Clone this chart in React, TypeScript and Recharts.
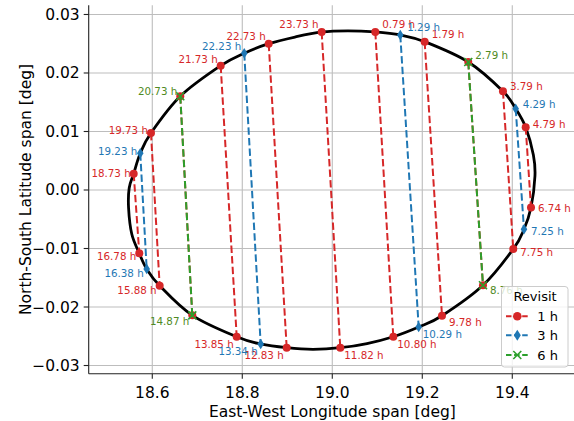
import React from 'react';
import { ScatterChart, Scatter, XAxis, YAxis, CartesianGrid, Legend } from 'recharts';

const FONT = '"DejaVu Sans", sans-serif';
const RED = '#d62728';
const BLUE = '#1f77b4';
const GREEN = '#2ca02c';
const GREEN_TEXT = '#4f8a23';

const xTicks = [18.6, 18.8, 19.0, 19.2, 19.4];
const yTicks = [-0.03, -0.02, -0.01, 0.0, 0.01, 0.02, 0.03];

// ellipse outline (clockwise from the top)
const ellipseLon = [
  19.0349, 19.0956, 19.1511, 19.2053, 19.3022, 19.3793, 19.4076, 19.4298, 19.4469, 19.4504,
  19.4416, 19.426, 19.4022, 19.3349, 19.2438, 19.192, 19.1356, 19.0771, 19.0178, 18.9571,
  18.8987, 18.8409, 18.7876, 18.6889, 18.6164, 18.5876, 18.5711, 18.5544, 18.5473, 18.5487,
  18.5587, 18.5733, 18.5971, 18.6622, 18.752, 18.8044, 18.8587, 18.9171, 18.9764,
];
const ellipseLat = [
  0.02721, 0.02701, 0.0265, 0.02535, 0.02188, 0.01687, 0.0139, 0.01072, 0.00598, 0.00239,
  -0.00299, -0.00672, -0.01009, -0.01629, -0.02149, -0.02342, -0.02508, -0.02624, -0.02696, -0.02723,
  -0.02696, -0.02632, -0.02508, -0.02142, -0.01636, -0.0135, -0.01082, -0.00752, -0.00308, 0.00034,
  0.00279, 0.00627, 0.00974, 0.01602, 0.02125, 0.02337, 0.02501, 0.02615, 0.02701,
];

// 1 h revisit: top end / bottom end of each pass
const oneTopHours = [18.73, 19.73, 20.73, 21.73, 22.73, 23.73, 0.79, 1.79, 2.79, 3.79, 4.79];
const oneTopLon = [18.5587, 18.5971, 18.6622, 18.752, 18.8587, 18.9764, 19.0956, 19.2053, 19.3022, 19.3793, 19.4298];
const oneTopLat = [0.00279, 0.00974, 0.01602, 0.02125, 0.02501, 0.02701, 0.02701, 0.02535, 0.02188, 0.01687, 0.01072];
const oneBotHours = [16.78, 15.88, 14.87, 13.85, 12.83, 11.82, 10.8, 9.78, 8.76, 7.75, 6.74];
const oneBotLon = [18.5711, 18.6164, 18.6889, 18.7876, 18.8987, 19.0178, 19.1356, 19.2438, 19.3349, 19.4022, 19.4416];
const oneBotLat = [-0.01082, -0.01636, -0.02142, -0.02508, -0.02696, -0.02696, -0.02508, -0.02149, -0.01629, -0.01009, -0.00299];

// 3 h revisit
const threeTopHours = [19.23, 22.23, 1.29, 4.29];
const threeTopLon = [18.5733, 18.8044, 19.1511, 19.4076];
const threeTopLat = [0.00627, 0.02337, 0.0265, 0.0139];
const threeBotHours = [16.38, 13.34, 10.29, 7.25];
const threeBotLon = [18.5876, 18.8409, 19.192, 19.426];
const threeBotLat = [-0.0135, -0.02632, -0.02342, -0.00672];

// 6 h revisit
const sixTopHours = [20.73, 2.79];
const sixTopLon = [18.6622, 19.3022];
const sixTopLat = [0.01602, 0.02188];
const sixBotHours = [14.87, 8.76];
const sixBotLon = [18.6889, 19.3349];
const sixBotLat = [-0.02142, -0.01629];

const legendLabels = ['1 h', '3 h', '6 h'];

type Pt = { x: number; y: number; h?: number };

const ellipse: Pt[] = ellipseLon.map((x, i) => ({ x, y: ellipseLat[i] }));

const makePasses = (tH: number[], tX: number[], tY: number[], bH: number[], bX: number[], bY: number[]): Pt[][] =>
  tH.map((h, i) => [
    { x: tX[i], y: tY[i], h },
    { x: bX[i], y: bY[i], h: bH[i] },
  ]);

const onePasses = makePasses(oneTopHours, oneTopLon, oneTopLat, oneBotHours, oneBotLon, oneBotLat);
const threePasses = makePasses(threeTopHours, threeTopLon, threeTopLat, threeBotHours, threeBotLon, threeBotLat);
const sixPasses = makePasses(sixTopHours, sixTopLon, sixTopLat, sixBotHours, sixBotLon, sixBotLat);
const sixHours = [...sixTopHours, ...sixBotHours];

// closed catmull-rom, so the ellipse has no seam
const closedCurve = (context: any) => {
  let pts: number[][] = [];
  return {
    areaStart() {},
    areaEnd() {},
    lineStart() {
      pts = [];
    },
    point(x: number, y: number) {
      pts.push([+x, +y]);
    },
    lineEnd() {
      const n = pts.length;
      if (n < 3) return;
      context.moveTo(pts[0][0], pts[0][1]);
      for (let i = 0; i < n; i++) {
        const p0 = pts[(i - 1 + n) % n];
        const p1 = pts[i];
        const p2 = pts[(i + 1) % n];
        const p3 = pts[(i + 2) % n];
        context.bezierCurveTo(
          p1[0] + (p2[0] - p0[0]) / 6, p1[1] + (p2[1] - p0[1]) / 6,
          p2[0] - (p3[0] - p1[0]) / 6, p2[1] - (p3[1] - p1[1]) / 6,
          p2[0], p2[1]
        );
      }
      context.closePath();
    },
  };
};

const hourLabel = (cx: number, cy: number, p: Pt, color: string) => {
  const right = p.x >= 19.0;
  const dx = right ? (p.y < -0.022 ? 4 : 7) : -3;
  return (
    <text x={cx + dx} y={cy - p.y * 290} dy="0.36em" textAnchor={right ? 'start' : 'end'}
      fontSize={10.3} fill={color} fontFamily={FONT}>
      {(p.h as number).toFixed(2)} h
    </text>
  );
};

const RedDot = (props: any) => {
  const { cx, cy, payload } = props;
  return (
    <g>
      <circle cx={cx} cy={cy} r={4} fill={RED} />
      {!sixHours.includes(payload.h) && hourLabel(cx, cy, payload, RED)}
    </g>
  );
};

const BlueDiamond = (props: any) => {
  const { cx, cy, payload } = props;
  return (
    <g>
      <polygon points={`${cx},${cy - 5.2} ${cx + 3.3},${cy} ${cx},${cy + 5.2} ${cx - 3.3},${cy}`} fill={BLUE} />
      {hourLabel(cx, cy, payload, BLUE)}
    </g>
  );
};

const GreenX = (props: any) => {
  const { cx, cy, payload } = props;
  return (
    <g>
      <path d={`M${cx - 4},${cy - 4}L${cx + 4},${cy + 4}M${cx - 4},${cy + 4}L${cx + 4},${cy - 4}`} stroke={GREEN} strokeWidth={1.6} />
      {hourLabel(cx, cy, payload, GREEN_TEXT)}
    </g>
  );
};

const dash = '7.4 3.2';

const LegendBox = () => {
  const rows = [
    { color: RED, icon: (x: number, y: number) => <circle cx={x} cy={y} r={4.3} fill={RED} /> },
    { color: BLUE, icon: (x: number, y: number) => <polygon points={`${x},${y - 5.5} ${x + 3.5},${y} ${x},${y + 5.5} ${x - 3.5},${y}`} fill={BLUE} /> },
    { color: GREEN, icon: (x: number, y: number) => <path d={`M${x - 4},${y - 4}L${x + 4},${y + 4}M${x - 4},${y + 4}L${x + 4},${y - 4}`} stroke={GREEN} strokeWidth={1.6} /> },
  ];
  const rowY = [30.3, 49.3, 69];
  return (
    <svg width={68} height={82} style={{ display: 'block' }}>
      <rect x={0.5} y={0.5} width={66.5} height={80.5} rx={3} fill="rgba(255,255,255,0.8)" stroke="#cccccc" />
      <text x={34} y={10.8} dy="0.36em" textAnchor="middle" fontSize={13} fontFamily={FONT} fill="#000">Revisit</text>
      {rows.map((r, i) => (
        <g key={i}>
          <line x1={5} x2={27.5} y1={rowY[i]} y2={rowY[i]} stroke={r.color} strokeWidth={2} strokeDasharray="5.5 2.6" />
          {r.icon(16.3, rowY[i])}
          <text x={36.3} y={rowY[i]} dy="0.36em" fontSize={13} fontFamily={FONT} fill="#000">{legendLabels[i]}</text>
        </g>
      ))}
    </svg>
  );
};

const App: React.FC = () => {
  const axisStroke = { stroke: '#222', strokeWidth: 1.1 };
  const tickFont = { fontSize: 15.5, fill: '#000', fontFamily: FONT };
  return (
    <div style={{ position: 'absolute', left: 0, top: 0, width: 574, height: 421, overflow: 'hidden', background: '#fff' }}>
      <ScatterChart width={580} height={421} margin={{ top: 5.3, right: 4, bottom: 17.3, left: 0 }}>
        <CartesianGrid stroke="#bdbdbd" strokeWidth={1.1} horizontalValues={yTicks} verticalValues={xTicks} />
        <XAxis type="number" dataKey="x" domain={[18.4587, 19.5416]} allowDataOverflow ticks={xTicks}
          tickFormatter={(v: number) => v.toFixed(1)} height={30} tickSize={5} tickMargin={8}
          axisLine={axisStroke} tickLine={axisStroke} tick={tickFont}
          label={{
            content: (p: any) => (
              <text x={p.viewBox.x + p.viewBox.width / 2} y={417.3} textAnchor="middle" fontSize={15.5} fontFamily={FONT} fill="#000">
                East-West Longitude span [deg]
              </text>
            ),
          }} />
        <XAxis xAxisId="top" orientation="top" type="number" domain={[18.4587, 19.5416]} allowDataOverflow
          height={0} tick={false} tickLine={false} axisLine={axisStroke} />
        <YAxis type="number" dataKey="y" domain={[-0.0314, 0.03157]} allowDataOverflow ticks={yTicks}
          tickFormatter={(v: number) => v.toFixed(2).replace('-', '\u2212')} width={88.7} tickSize={5} tickMargin={4}
          axisLine={axisStroke} tickLine={axisStroke} tick={tickFont}
          label={{
            content: (p: any) => {
              const cy = p.viewBox.y + p.viewBox.height / 2;
              return (
                <text x={30.5} y={cy} transform={`rotate(-90 30.5 ${cy})`} textAnchor="middle" fontSize={15.5} fontFamily={FONT} fill="#000">
                  North-South Latitude span [deg]
                </text>
              );
            },
          }} />

        <Scatter data={ellipse} line={{ stroke: '#000', strokeWidth: 2.8 }} lineJointType={closedCurve as any}
          shape={() => <g />} isAnimationActive={false} />

        {onePasses.map((d, i) => (
          <Scatter key={`r${i}`} data={d} fill={RED} line={{ stroke: RED, strokeWidth: 2, strokeDasharray: dash }}
            shape={RedDot} isAnimationActive={false} />
        ))}
        {threePasses.map((d, i) => (
          <Scatter key={`b${i}`} data={d} fill={BLUE} line={{ stroke: BLUE, strokeWidth: 2, strokeDasharray: dash }}
            shape={BlueDiamond} isAnimationActive={false} />
        ))}
        {sixPasses.map((d, i) => (
          <Scatter key={`g${i}`} data={d} fill={GREEN} line={{ stroke: GREEN, strokeWidth: 2, strokeDasharray: dash }}
            shape={GreenX} isAnimationActive={false} />
        ))}

        <Legend layout="horizontal" verticalAlign="middle" align="center" width={68} height={82}
          wrapperStyle={{ left: 501, top: 286, width: 68, height: 82 }} content={() => <LegendBox />} />
      </ScatterChart>
    </div>
  );
};

export default App;
